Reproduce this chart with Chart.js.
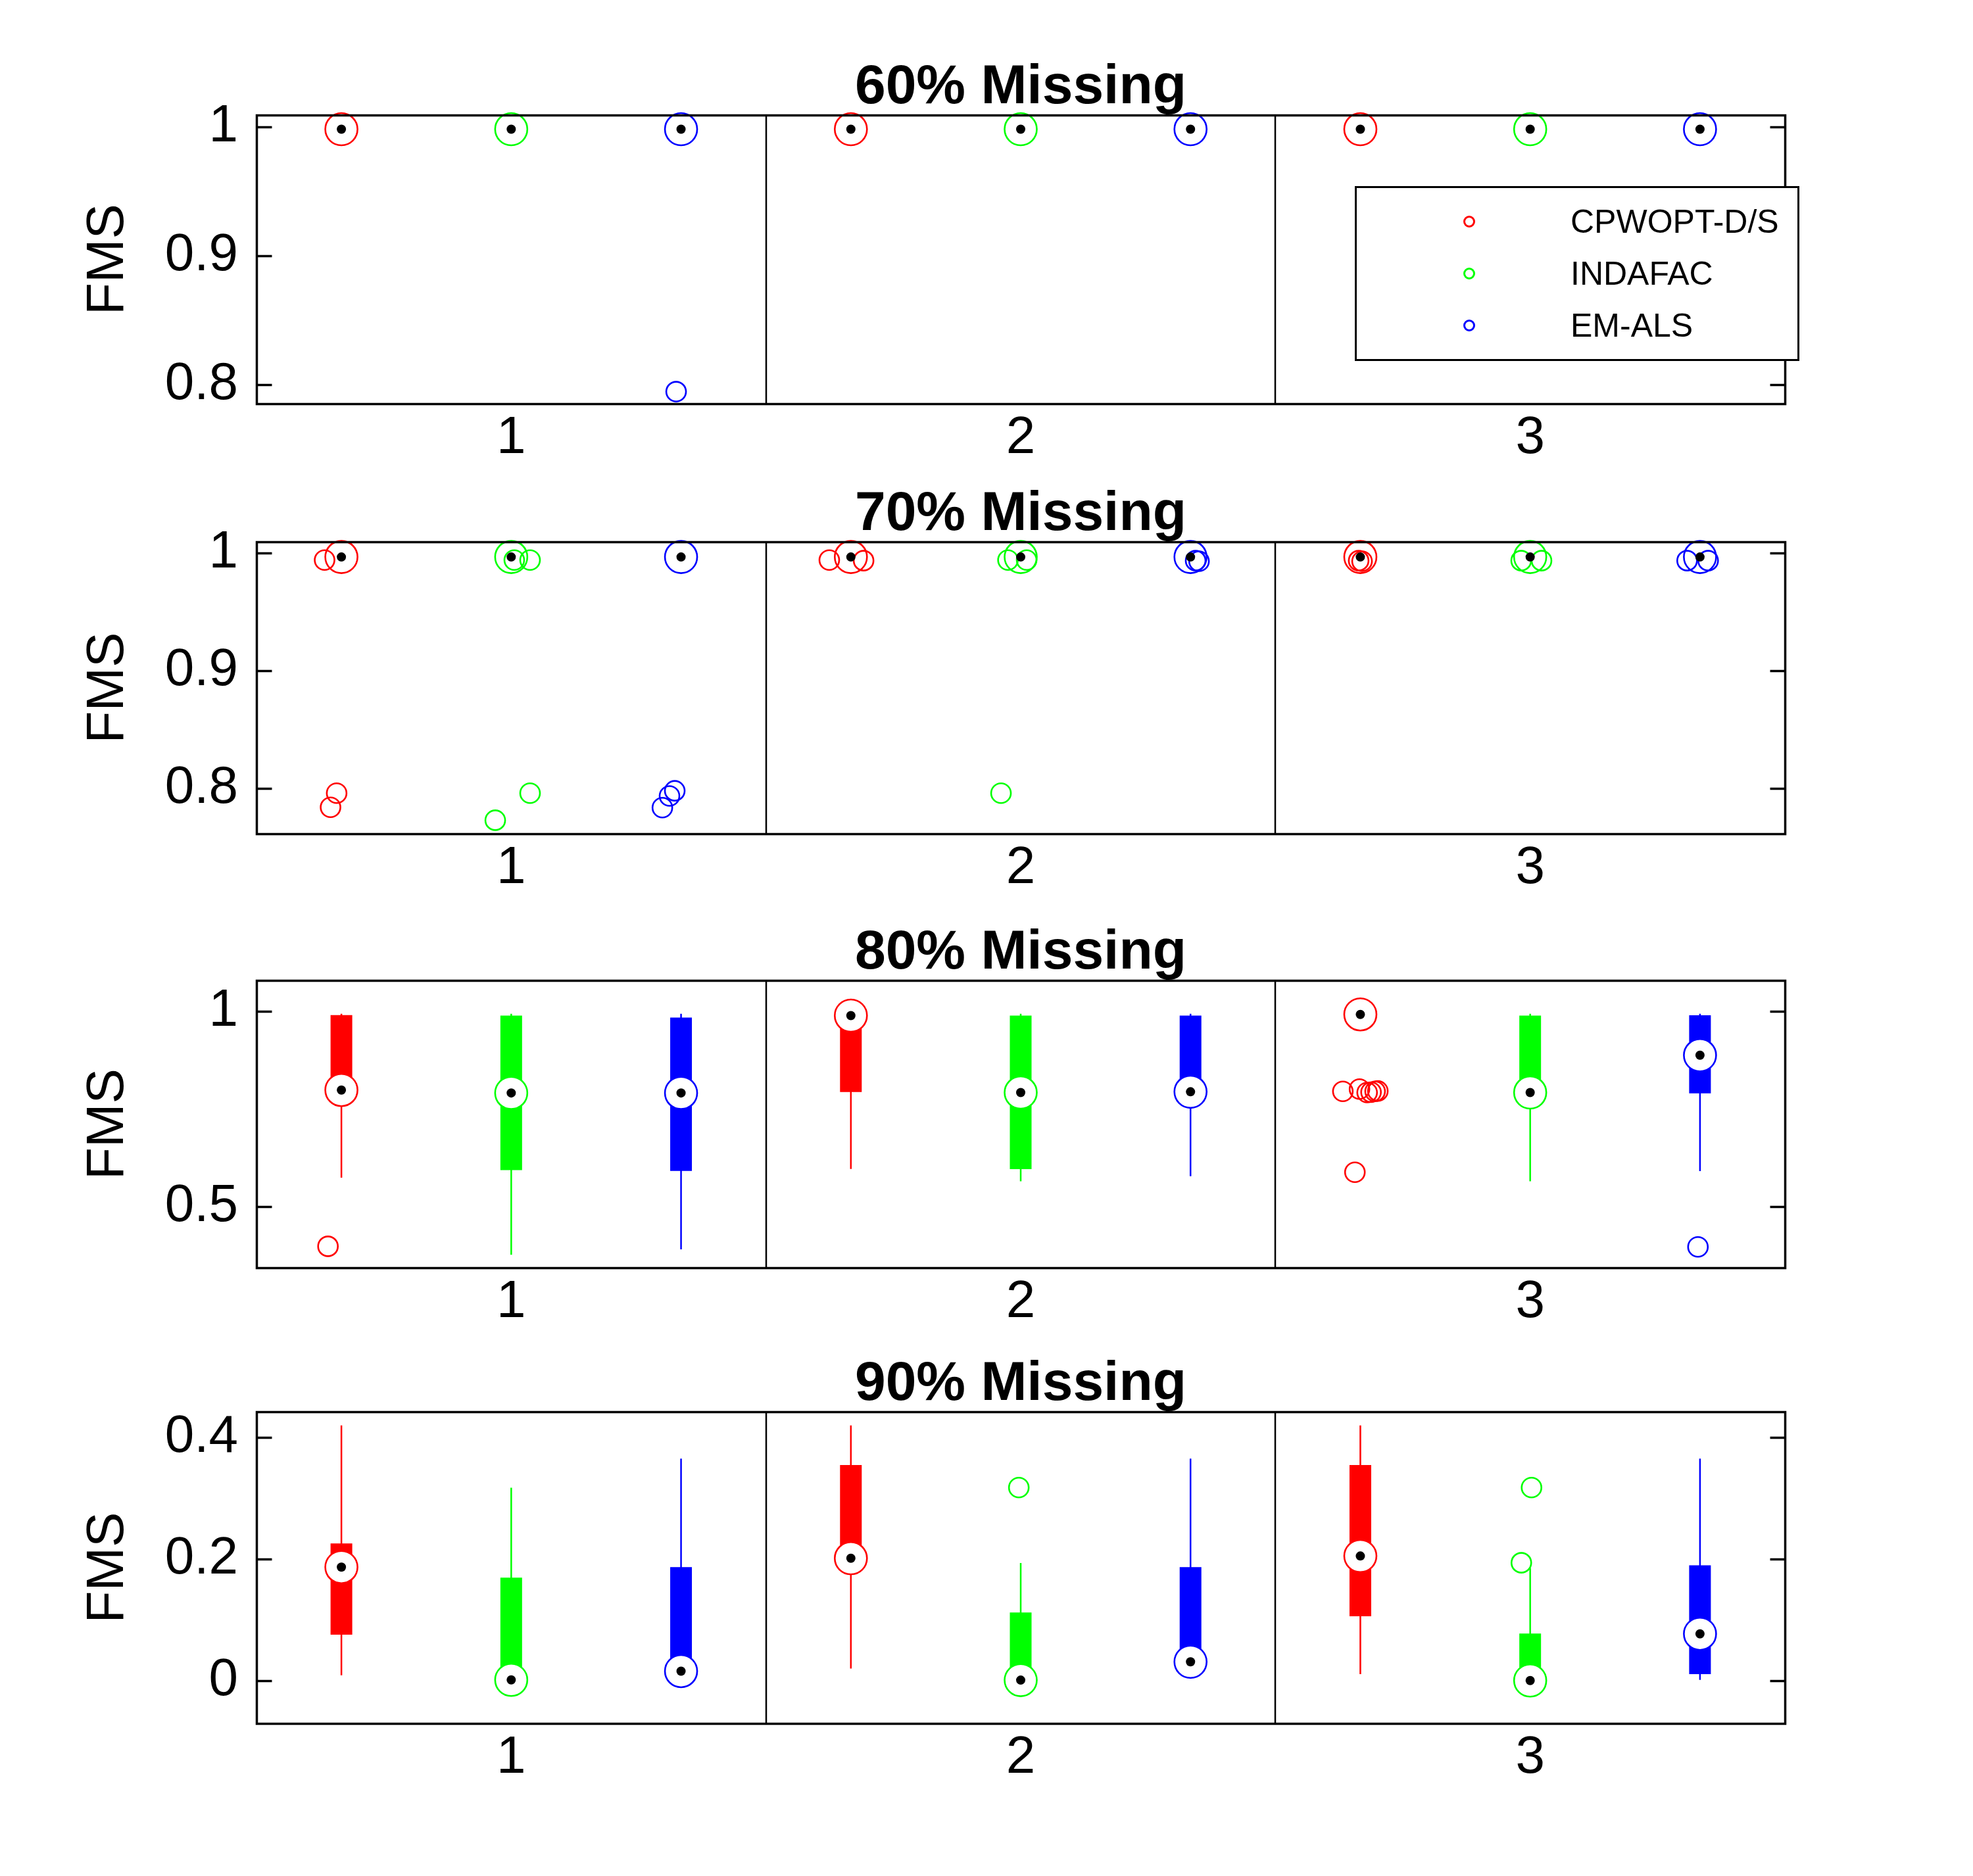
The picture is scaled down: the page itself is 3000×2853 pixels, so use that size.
<!DOCTYPE html>
<html>
<head>
<meta charset="utf-8">
<script src="https://cdn.jsdelivr.net/npm/chart.js@4/dist/chart.umd.min.js"></script>
<style>
html,body{margin:0;padding:0;background:#fff;}
body{position:relative;width:3000px;height:2853px;overflow:hidden;font-family:"Liberation Sans",Arial,sans-serif;}
canvas{position:absolute;left:0;}
#legend{position:absolute;left:2060px;top:283px;width:676px;height:266px;box-sizing:border-box;border:3px solid #000;background:#fff;z-index:5;}
.lg-mark{position:absolute;width:18px;height:18px;box-sizing:border-box;border:3px solid;border-radius:50%;}
.lg-text{position:absolute;font-size:50px;line-height:50px;color:#000;white-space:nowrap;font-family:"Liberation Sans",Arial,sans-serif;}
</style>
</head>
<body>
<div id="legend"></div>
<script>
// ---------------- DATA ----------------
const groupLabels = ['1', '2', '3'];
const methods = ['CPWOPT-D/S', 'INDAFAC', 'EM-ALS'];
const methodColors = ['#ff0000', '#00ff00', '#0000ff'];
const panelTitles = ['60% Missing', '70% Missing', '80% Missing', '90% Missing'];
const yAxisTitle = 'FMS';
const yTickValues = [[0.8, 0.9, 1], [0.8, 0.9, 1], [0.5, 1], [0, 0.2, 0.4]];
const yTickLabels = [['0.8', '0.9', '1'], ['0.8', '0.9', '1'], ['0.5', '1'], ['0', '0.2', '0.4']];
const yMin = [0.785, 0.7615, 0.3436, -0.0703];
const yMax = [1.009, 1.0095, 1.079, 0.442];

// each array: [method][group]
const fms60Low    = [[0.996, 0.996, 0.996], [0.996, 0.996, 0.996], [0.996, 0.996, 0.996]];
const fms60Q1     = [[0.997, 0.997, 0.997], [0.997, 0.997, 0.997], [0.997, 0.997, 0.997]];
const fms60Median = [[0.998, 0.998, 0.998], [0.998, 0.998, 0.998], [0.998, 0.998, 0.998]];
const fms60Q3     = [[0.999, 0.999, 0.999], [0.999, 0.999, 0.999], [0.999, 0.999, 0.999]];
const fms60High   = [[0.999, 0.999, 0.999], [0.999, 0.999, 0.999], [0.999, 0.999, 0.999]];
// outliers: [method] -> [position on x axis (jittered), value]
const fms60Outliers = [[], [], [[2.971, 0.7944]]];

const fms70Low    = [[0.995, 0.995, 0.995], [0.995, 0.995, 0.995], [0.995, 0.995, 0.995]];
const fms70Q1     = [[0.9958, 0.9958, 0.9958], [0.9958, 0.9958, 0.9958], [0.9958, 0.9958, 0.9958]];
const fms70Median = [[0.9966, 0.9966, 0.9966], [0.9966, 0.9966, 0.9966], [0.9966, 0.9966, 0.9966]];
const fms70Q3     = [[0.9975, 0.9975, 0.9975], [0.9975, 0.9975, 0.9975], [0.9975, 0.9975, 0.9975]];
const fms70High   = [[0.998, 0.998, 0.998], [0.998, 0.998, 0.998], [0.998, 0.998, 0.998]];
const fms70Outliers = [
  [[0.901, 0.994], [0.972, 0.796], [0.936, 0.784], [3.873, 0.994], [4.075, 0.9935], [6.99, 0.9935], [7.01, 0.993]],
  [[2.018, 0.994], [2.111, 0.994], [2.111, 0.796], [1.906, 0.773], [4.925, 0.994], [5.035, 0.994], [4.884, 0.796], [7.947, 0.9935], [8.067, 0.9935]],
  [[2.963, 0.798], [2.932, 0.7936], [2.890, 0.7837], [6.03, 0.9935], [6.05, 0.993], [8.924, 0.9935], [9.048, 0.9935]]
];

const fms80Low    = [[0.574, 0.5965, 0.99], [0.377, 0.565, 0.565], [0.3906, 0.578, 0.591]];
const fms80Q1     = [[0.798, 0.7935, 0.99], [0.5934, 0.596, 0.792], [0.5913, 0.794, 0.790]];
const fms80Median = [[0.7985, 0.989, 0.992], [0.791, 0.792, 0.792], [0.791, 0.794, 0.8875]];
const fms80Q3     = [[0.9904, 0.990, 0.993], [0.989, 0.989, 0.989], [0.984, 0.989, 0.990]];
const fms80High   = [[0.9936, 0.993, 0.9936], [0.9936, 0.9936, 0.9936], [0.9936, 0.9936, 0.9936]];
const fms80Outliers = [
  [[0.921, 0.3985], [6.897, 0.795], [6.995, 0.801], [7.04, 0.792], [7.063, 0.793], [7.087, 0.795], [7.103, 0.796], [6.968, 0.588]],
  [],
  [[8.988, 0.397]]
];

const fms90Low    = [[0.0088, 0.0199, 0.0108], [0.0, 0.0, 0.0], [0.005, 0.02, 0.0013]];
const fms90Q1     = [[0.0757, 0.2012, 0.106], [0.0013, 0.0009, 0.0002], [0.0157, 0.031, 0.0108]];
const fms90Median = [[0.1867, 0.2012, 0.2049], [0.0013, 0.0009, 0.0002], [0.0157, 0.031, 0.077]];
const fms90Q3     = [[0.2257, 0.3544, 0.3544], [0.1693, 0.1122, 0.0775], [0.1867, 0.1867, 0.1897]];
const fms90High   = [[0.4195, 0.4195, 0.4195], [0.3172, 0.1933, 0.185], [0.3651, 0.3651, 0.3651]];
const fms90Outliers = [[], [[4.989, 0.3175], [8.008, 0.3175], [7.948, 0.1938]], []];

// ---------------- BUILD ----------------
const panels = [
  {low: fms60Low, q1: fms60Q1, median: fms60Median, q3: fms60Q3, high: fms60High, outliers: fms60Outliers},
  {low: fms70Low, q1: fms70Q1, median: fms70Median, q3: fms70Q3, high: fms70High, outliers: fms70Outliers},
  {low: fms80Low, q1: fms80Q1, median: fms80Median, q3: fms80Q3, high: fms80High, outliers: fms80Outliers},
  {low: fms90Low, q1: fms90Q1, median: fms90Median, q3: fms90Q3, high: fms90High, outliers: fms90Outliers}
];

const FONT = '"Liberation Sans", Arial, Helvetica, sans-serif';
Chart.defaults.font.family = FONT;
Chart.defaults.color = '#000';

function hasFont(name) {
  const c = document.createElement('canvas').getContext('2d');
  const s = 'abcdefghijklmnopqrstuvwxyzABCDEFGHIJKLM0123456789%';
  c.font = 'bold 72px monospace';
  const w0 = c.measureText(s).width;
  c.font = 'bold 72px "' + name + '", monospace';
  const w1 = c.measureText(s).width;
  return Math.abs(w0 - w1) > 0.5;
}
const narrow = hasFont('Liberation Sans Narrow');
const titleFont = narrow
  ? {family: '"Liberation Sans Narrow", "Liberation Sans", Arial, sans-serif', size: 98, weight: 'bold', lineHeight: '82px'}
  : {family: FONT, size: 84, weight: 'bold', lineHeight: '82px'};

// group position on the x axis: 3 boxes per group
function boxX(g, m) { return 3 * g + m + 1; }
const groupCenters = groupLabels.map((_, g) => boxX(g, 1));
const groupDividers = [3.5, 6.5];

const framePlugin = {
  id: 'matlabFrame',
  afterDatasetsDraw(chart) {
    const {ctx, chartArea: a} = chart;
    const xs = chart.scales.x, ys = chart.scales.y;
    const L = Math.round(a.left) + 0.5, R = Math.round(a.right) + 0.5;
    const T = Math.round(a.top) + 0.5, B = Math.round(a.bottom) + 0.5;
    ctx.save();
    ctx.strokeStyle = '#000';
    ctx.lineCap = 'butt';
    ctx.lineWidth = 2.5;
    groupDividers.forEach(v => {
      const px = Math.round(xs.getPixelForValue(v));
      ctx.beginPath(); ctx.moveTo(px, T); ctx.lineTo(px, B); ctx.stroke();
    });
    ctx.lineWidth = 3.5;
    ys.ticks.forEach(t => {
      const py = Math.round(ys.getPixelForValue(t.value)) + 0.5;
      ctx.beginPath();
      ctx.moveTo(L, py); ctx.lineTo(L + 23, py);
      ctx.moveTo(R, py); ctx.lineTo(R - 23, py);
      ctx.stroke();
    });
    ctx.lineJoin = 'miter';
    ctx.strokeRect(L, T, R - L, B - T);
    ctx.restore();
  }
};

function buildDatasets(P) {
  const ds = [];
  for (let m = 0; m < methods.length; m++) {
    const c = methodColors[m];
    const wData = [], bData = [], medData = [];
    for (let g = 0; g < groupLabels.length; g++) {
      const x = boxX(g, m);
      wData.push({x, y: P.low[m][g]}, {x, y: P.high[m][g]}, {x, y: null});
      bData.push({x, y: P.q1[m][g]}, {x, y: P.q3[m][g]}, {x, y: null});
      medData.push({x, y: P.median[m][g]});
    }
    const outData = P.outliers[m].map(o => ({x: o[0], y: o[1]}));
    ds.push({type: 'line', label: methods[m] + ' whisker', data: wData, borderColor: c, borderWidth: 2.5,
      borderCapStyle: 'butt', pointRadius: 0, spanGaps: false, fill: false, order: 6, clip: false});
    ds.push({type: 'line', label: methods[m] + ' box', data: bData, borderColor: c, borderWidth: 33,
      borderCapStyle: 'butt', pointRadius: 0, spanGaps: false, fill: false, order: 5, clip: false});
    ds.push({type: 'scatter', label: methods[m], data: medData, pointRadius: 24.5, pointBorderWidth: 2.6,
      pointBackgroundColor: '#ffffff', pointBorderColor: c, backgroundColor: '#ffffff', borderColor: c, order: 4, clip: false});
    ds.push({type: 'scatter', label: methods[m] + ' outliers', data: outData, pointRadius: 15, pointBorderWidth: 2.6,
      pointBackgroundColor: 'rgba(0,0,0,0)', pointBorderColor: c, backgroundColor: 'rgba(0,0,0,0)', borderColor: c, order: 2, clip: false});
    ds.push({type: 'scatter', label: methods[m] + ' median', data: medData, pointRadius: 7, pointBorderWidth: 0,
      pointBackgroundColor: '#000', pointBorderColor: '#000', backgroundColor: '#000', borderColor: '#000', order: 1, clip: false});
  }
  return ds;
}

const chartTop = [175, 824, 1491, 2147];
const chartBottom = [614, 1268, 1928, 2621];
const TITLE_BLOCK = 175, XAXIS_H = 120, YAXIS_W = 390, RIGHT_PAD = 286;

panels.forEach((P, p) => {
  const cv = document.createElement('canvas');
  const h = TITLE_BLOCK + (chartBottom[p] - chartTop[p]) + XAXIS_H;
  cv.width = 3000; cv.height = h;
  cv.style.top = (chartTop[p] - TITLE_BLOCK) + 'px';
  cv.style.width = '3000px'; cv.style.height = h + 'px';
  document.body.appendChild(cv);
  new Chart(cv.getContext('2d'), {
    type: 'scatter',
    data: {datasets: buildDatasets(P)},
    options: {
      responsive: false, animation: false, devicePixelRatio: 1,
      events: [],
      layout: {padding: {left: 0, right: RIGHT_PAD, top: 0, bottom: 0}},
      plugins: {
        legend: {display: false},
        tooltip: {enabled: false},
        title: {display: true, text: panelTitles[p], fullSize: false, color: '#000',
          font: titleFont, padding: {top: 93, bottom: 0}}
      },
      scales: {
        x: {
          type: 'linear', min: 0.5, max: 9.5, bounds: 'data',
          afterBuildTicks: s => { s.ticks = groupCenters.map(v => ({value: v})); },
          afterFit: s => { s.height = XAXIS_H; },
          ticks: {callback: (v, i) => groupLabels[i], autoSkip: false, maxRotation: 0, minRotation: 0,
            padding: 13, color: '#000', font: {size: 80, lineHeight: 1}},
          grid: {display: false, drawTicks: false},
          border: {display: false}
        },
        y: {
          type: 'linear', min: yMin[p], max: yMax[p], bounds: 'data',
          afterBuildTicks: s => { s.ticks = yTickValues[p].map(v => ({value: v})); },
          afterFit: s => { s.width = YAXIS_W; },
          ticks: {callback: (v, i) => yTickLabels[p][i], autoSkip: false, padding: 28, color: '#000',
            font: {size: 80, lineHeight: 1}},
          grid: {display: false, drawTicks: false},
          border: {display: false},
          title: {display: true, text: yAxisTitle, color: '#000', font: {size: 80, lineHeight: 1},
            padding: {top: 125, bottom: 0}}
        }
      }
    },
    plugins: [framePlugin]
  });
});

// legend (inside the first panel, top right)
const legend = document.getElementById('legend');
const rowCenters = [54, 133, 212];
methods.forEach((name, m) => {
  const mk = document.createElement('div');
  mk.className = 'lg-mark';
  mk.style.borderColor = methodColors[m];
  mk.style.left = (174 - 9 - 3) + 'px';
  mk.style.top = (rowCenters[m] - 9 - 3) + 'px';
  legend.appendChild(mk);
  const tx = document.createElement('div');
  tx.className = 'lg-text';
  tx.textContent = name;
  tx.style.left = (328 - 3) + 'px';
  tx.style.top = (rowCenters[m] - 25 - 3) + 'px';
  legend.appendChild(tx);
});
</script>
</body>
</html>
